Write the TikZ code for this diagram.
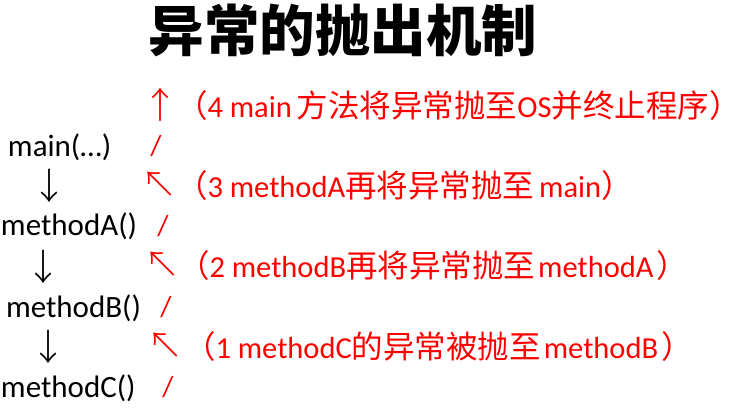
\documentclass[tikz,border=0pt]{standalone}
\usepackage{fontspec}
\setmainfont{Carlito}
\newfontfamily\cjkfont{Noto Sans CJK SC}
\IfFontExistsTF{Noto Sans CJK SC Light}
  {\newfontfamily\arrowfont{Noto Sans CJK SC Light}}
  {\newfontfamily\arrowfont{Noto Sans CJK SC}}
\newcommand\cj[1]{{\cjkfont\fontsize{31.5}{36}\selectfont #1}}
\definecolor{hot}{RGB}{255,0,0}
\tikzset{
  every node/.style={inner sep=0pt, outer sep=0pt},
  title/.style={font=\cjkfont\bfseries\fontsize{55.5}{60}\selectfont, anchor=base},
  call/.style={font=\fontsize{31}{36}\selectfont, anchor=base west, text=black},
  down/.style={font=\arrowfont\fontsize{36}{40}\selectfont, anchor=base, text=black},
  note/.style={font=\fontsize{30.5}{36}\selectfont, anchor=base west, text=hot},
  up/.style={font=\arrowfont\fontsize{36}{40}\selectfont, anchor=base, text=hot},
  slash/.style={font=\fontsize{29}{34}\selectfont, anchor=base, text=hot}
}
\begin{document}
\begin{tikzpicture}[x=1pt,y=-1pt]
\useasboundingbox (0,0) rectangle (746,414);
\fill[white] (0,0) rectangle (746,414);
% title
\node[title] (t) at (343,52) {异常的抛出机制};
% call chain
\node[call] (m0) at (8,157) {main(…)};
\node[down] (d1) at (49,200) {↓};
\node[call] (m1) at (1,235) {methodA()};
\node[down] (d2) at (43,280) {↓};
\node[call] (m2) at (6,317) {methodB()};
\node[down] (d3) at (48,360) {↓};
\node[call] (m3) at (1,397) {methodC()};
% red notes
\node[up] (u4) at (160,119) {↑};
\node[note] (n4) at (176,118) {\cj{（}4 main\hspace{5pt}\cj{方法将异常抛至}OS\cj{并终止程序）}};
\node[slash] (s0) at (156,156) {/};
\node[up] (u3) at (159,197) {↖};
\node[note] (n3) at (176,197) {\cj{（}3 methodA\cj{再将异常抛至}\hspace{5pt}main\cj{）}};
\node[slash] (s1) at (163,235) {/};
\node[up] (u2) at (162,277) {↖};
\node[note] (n2) at (178,277) {\cj{（}2 methodB\cj{再将异常抛至}\hspace{3pt}methodA\hspace{3pt}\cj{）}};
\node[slash] (s2) at (166,316) {/};
\node[up] (u1) at (165,358) {↖};
\node[note] (n1) at (184,358) {\cj{（}1 methodC\cj{的异常被抛至}\hspace{3pt}methodB\hspace{3pt}\cj{）}};
\node[slash] (s3) at (168,396) {/};
\end{tikzpicture}
\end{document}
